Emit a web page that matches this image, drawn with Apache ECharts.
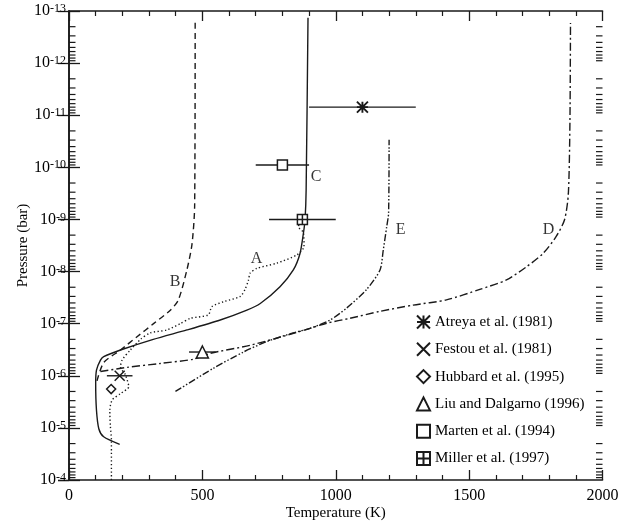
<!DOCTYPE html>
<html><head><meta charset="utf-8">
<script src="https://cdn.jsdelivr.net/npm/echarts@6/dist/echarts.min.js"></script>
<style>html,body{margin:0;padding:0;background:#fff}#c{width:619px;height:522px}</style>
</head><body><div id="c"></div>
<script>
// ---- Data (Temperature in K, Pressure in bar) ----
const curveA_T = [159,159,155,153,162,193,224,211,193,199,230,268,305,367,417,455,522,536,579,642,660,673,679,704,779,854,881,879,860,866];
const curveA_P = [1e-4,1.7e-5,9.1e-6,4.6e-6,2.9e-6,2.2e-6,1.62e-6,9.5e-7,6.8e-7,5.0e-7,3.2e-7,2.0e-7,1.5e-7,1.32e-7,1.0e-7,7.9e-8,6.8e-8,4.7e-8,3.8e-8,3.0e-8,2.2e-8,1.45e-8,1.07e-8,8.7e-9,6.9e-9,4.8e-9,3.3e-9,1.8e-9,1.38e-9,1.1e-9];

const curveB_T = [105,130,193,255,317,380,410,442,461,471,473];
const curveB_P = [1.25e-6,5.6e-7,3.2e-7,1.78e-7,1.0e-7,5.5e-8,3.5e-8,9.3e-9,3.0e-9,5.6e-10,1.48e-13];

const curveC_T = [190,130,112,103,100,103,118,130,193,316,442,567,667,717,791,841,866,879,885,889,896];
const curveC_P = [2.07e-5,1.48e-5,1.05e-5,4.6e-6,1.38e-6,7.8e-7,5.0e-7,4.3e-7,3.2e-7,2.0e-7,1.32e-7,8.5e-8,5.5e-8,4.1e-8,1.95e-8,9.3e-9,4.5e-9,1.8e-9,1.0e-9,2.7e-10,1.35e-13];

const curveD_T = [118,218,342,467,530,679,866,966,1053,1166,1290,1415,1540,1640,1715,1777,1827,1858,1872,1878,1880];
const curveD_P = [8.3e-7,6.9e-7,5.8e-7,4.8e-7,3.7e-7,2.6e-7,1.41e-7,9.8e-8,7.9e-8,5.8e-8,4.4e-8,3.5e-8,2.2e-8,1.45e-8,8.1e-9,4.5e-9,2.1e-9,1.0e-9,3.2e-10,1.23e-11,1.7e-13];

const curveE_T = [399,541,654,742,841,904,979,1041,1116,1166,1178,1191,1198,1200];
const curveE_P = [2.0e-6,7.2e-7,3.5e-7,2.2e-7,1.5e-7,1.23e-7,8.5e-8,5.0e-8,2.2e-8,9.3e-9,3.9e-9,1.38e-9,7.6e-10,2.95e-11];

// Observations: name, T, P, T error range (lo, hi)
const obsNames = ['Atreya et al. (1981)','Festou et al. (1981)','Hubbard et al. (1995)','Liu and Dalgarno (1996)','Marten et al. (1994)','Miller et al. (1997)'];
const obsT  = [1100, 190, 158, 500, 800, 875];
const obsP  = [7e-12, 1e-6, 1.8e-6, 3.5e-7, 9e-11, 1e-9];
const obsLo = [900, 142, null, 450, 700, 750];
const obsHi = [1300, 238, null, 550, 900, 1000];

// Curve labels (in data units)
const curveLabels = ['A','B','C','D','E'];
const labelT = [703, 398, 926, 1798, 1243];
const labelP = [5.7e-9, 1.6e-8, 1.5e-10, 1.6e-9, 1.6e-9];

// Axis ranges / ticks
const xMin = 0, xMax = 2000, xStep = 500;
const yMin = 1e-13, yMax = 1e-4;
const yDecades = [-13,-12,-11,-10,-9,-8,-7,-6,-5];
const yMinorMult = [2,3,4,5,6,7,8,9];

// ---- build ----
const FONT = 'Liberation Serif';
const INK = '#1a1a1a';
const zip = (a, b) => a.map((v, i) => [v, b[i]]);
const minorTicks = [];
yDecades.forEach(d => yMinorMult.forEach(m => minorTicks.push([xMin, m * Math.pow(10, d)])));

const symbols = [
  'path://M0,0L10,10M10,0L0,10M5,0L5,10M0,5L10,5',
  'path://M0,0L10,10M10,0L0,10',
  'diamond',
  'triangle',
  'rect',
  'path://M0,0L10,0L10,10L0,10ZM5,0L5,10M0,5L10,5'
];
const symSizes = [11, 10, 9, 12, 10, 10];

function lineSeries(name, T, P, dash) {
  return {
    name, type: 'line', data: zip(T, P), showSymbol: false, smooth: 0.25,
    lineStyle: { color: INK, width: 1.4, type: dash }, silent: true, z: 3
  };
}

const series = [
  lineSeries('A', curveA_T, curveA_P, [1.3, 2.4]),
  lineSeries('B', curveB_T, curveB_P, [6, 4]),
  lineSeries('C', curveC_T, curveC_P, 'solid'),
  lineSeries('D', curveD_T, curveD_P, [8, 3, 2, 3]),
  lineSeries('E', curveE_T, curveE_P, [7, 2, 1.5, 2, 1.5, 2]),
  {
    name: 'errbars', type: 'custom', silent: true, z: 4,
    data: obsT.map((t, i) => [obsLo[i], obsP[i], obsHi[i]]).filter(d => d[0] != null),
    encode: { x: 0, y: 1 },
    renderItem: (params, api) => {
      const a = api.coord([api.value(0), api.value(1)]);
      const b = api.coord([api.value(2), api.value(1)]);
      return { type: 'line', shape: { x1: a[0], y1: a[1], x2: b[0], y2: b[1] },
        style: { stroke: INK, lineWidth: 1.4 } };
    }
  },
  {
    name: 'minorY', type: 'custom', silent: true, z: 2, clip: false,
    data: minorTicks, encode: { x: 0, y: 1 },
    renderItem: (params, api) => {
      const l = api.coord([xMin, api.value(1)]);
      const r = api.coord([xMax, api.value(1)]);
      return { type: 'group', children: [
        { type: 'line', shape: { x1: l[0], y1: l[1], x2: l[0] + 6.5, y2: l[1] }, style: { stroke: INK, lineWidth: 1.2 } },
        { type: 'line', shape: { x1: r[0], y1: r[1], x2: r[0] - 6.5, y2: r[1] }, style: { stroke: INK, lineWidth: 1.2 } }
      ]};
    }
  },
  {
    name: 'labels', type: 'scatter', silent: true, symbolSize: 0, z: 6,
    data: curveLabels.map((n, i) => ({ name: n, value: [labelT[i], labelP[i]] })),
    label: { show: true, position: 'inside', formatter: '{b}', fontFamily: FONT, fontSize: 16, color: '#000' }
  }
];
obsNames.forEach((n, i) => {
  series.push({
    name: n, type: 'scatter', z: 8, symbol: symbols[i], symbolSize: symSizes[i],
    data: [[obsT[i], obsP[i]]],
    itemStyle: { color: (i === 0 || i === 1) ? 'rgba(0,0,0,0)' : '#ffffff', borderColor: INK,
      borderWidth: i === 0 ? 1.9 : 1.5, opacity: 1 }
  });
});

const axisLine = { show: true, lineStyle: { color: INK, width: 1.6 } };
const yLabelFmt = v => '{b|10}{s|' + Math.round(Math.log10(v)) + '}';

const option = {
  backgroundColor: '#fff',
  animation: false,
  grid: { left: 69, right: 16.5, top: 11, bottom: 42, containLabel: false, outerBoundsMode: 'none' },
  legend: {
    orient: 'vertical', left: 411, top: 309, itemWidth: 13, itemHeight: 13, itemGap: 11.3,
    data: obsNames, selectedMode: false,
    textStyle: { fontFamily: FONT, fontSize: 15, color: '#000', lineHeight: 16 }
  },
  xAxis: [
    { type: 'value', min: xMin, max: xMax, interval: xStep, position: 'bottom',
      name: 'Temperature (K)', nameLocation: 'middle', nameGap: 26, nameMoveOverlap: false,
      nameTextStyle: { fontFamily: FONT, fontSize: 15, color: '#000' },
      axisLine, splitLine: { show: false },
      axisTick: { inside: true, length: 10, lineStyle: { color: INK, width: 1.3 } },
      minorTick: { show: true, splitNumber: 5, length: 5, lineStyle: { color: INK, width: 1.2 } },
      axisLabel: { fontFamily: FONT, fontSize: 16, color: '#000', margin: 8, formatter: v => String(v) } },
    { type: 'value', min: xMin, max: xMax, interval: xStep, position: 'top',
      axisLine, splitLine: { show: false },
      axisTick: { inside: true, length: 10, lineStyle: { color: INK, width: 1.3 } },
      minorTick: { show: true, splitNumber: 5, length: 5, lineStyle: { color: INK, width: 1.2 } },
      axisLabel: { show: false } }
  ],
  yAxis: [
    { type: 'log', logBase: 10, min: yMin, max: yMax, inverse: true, position: 'left',
      name: 'Pressure (bar)', nameLocation: 'middle', nameGap: 38, nameRotate: 90, nameMoveOverlap: false,
      nameTextStyle: { fontFamily: FONT, fontSize: 15, color: '#000' },
      axisLine, splitLine: { show: false }, minorTick: { show: false },
      axisTick: { inside: true, length: 11, lineStyle: { color: INK, width: 1.3 } },
      axisLabel: { formatter: yLabelFmt, margin: 3,
        rich: {
          b: { fontFamily: FONT, fontSize: 16, color: '#000', lineHeight: 16, verticalAlign: 'middle' },
          s: { fontFamily: FONT, fontSize: 12, color: '#000', lineHeight: 12, padding: [0, 0, 12, 0], verticalAlign: 'top' }
        } } },
    { type: 'log', logBase: 10, min: yMin, max: yMax, inverse: true, position: 'right',
      axisLine, splitLine: { show: false }, minorTick: { show: false },
      axisTick: { inside: true, length: 11, lineStyle: { color: INK, width: 1.3 } },
      axisLabel: { show: false } }
  ],
  series
};

const chart = echarts.init(document.getElementById('c'), null, { renderer: 'canvas' });
chart.setOption(option);
</script>
</body></html>
